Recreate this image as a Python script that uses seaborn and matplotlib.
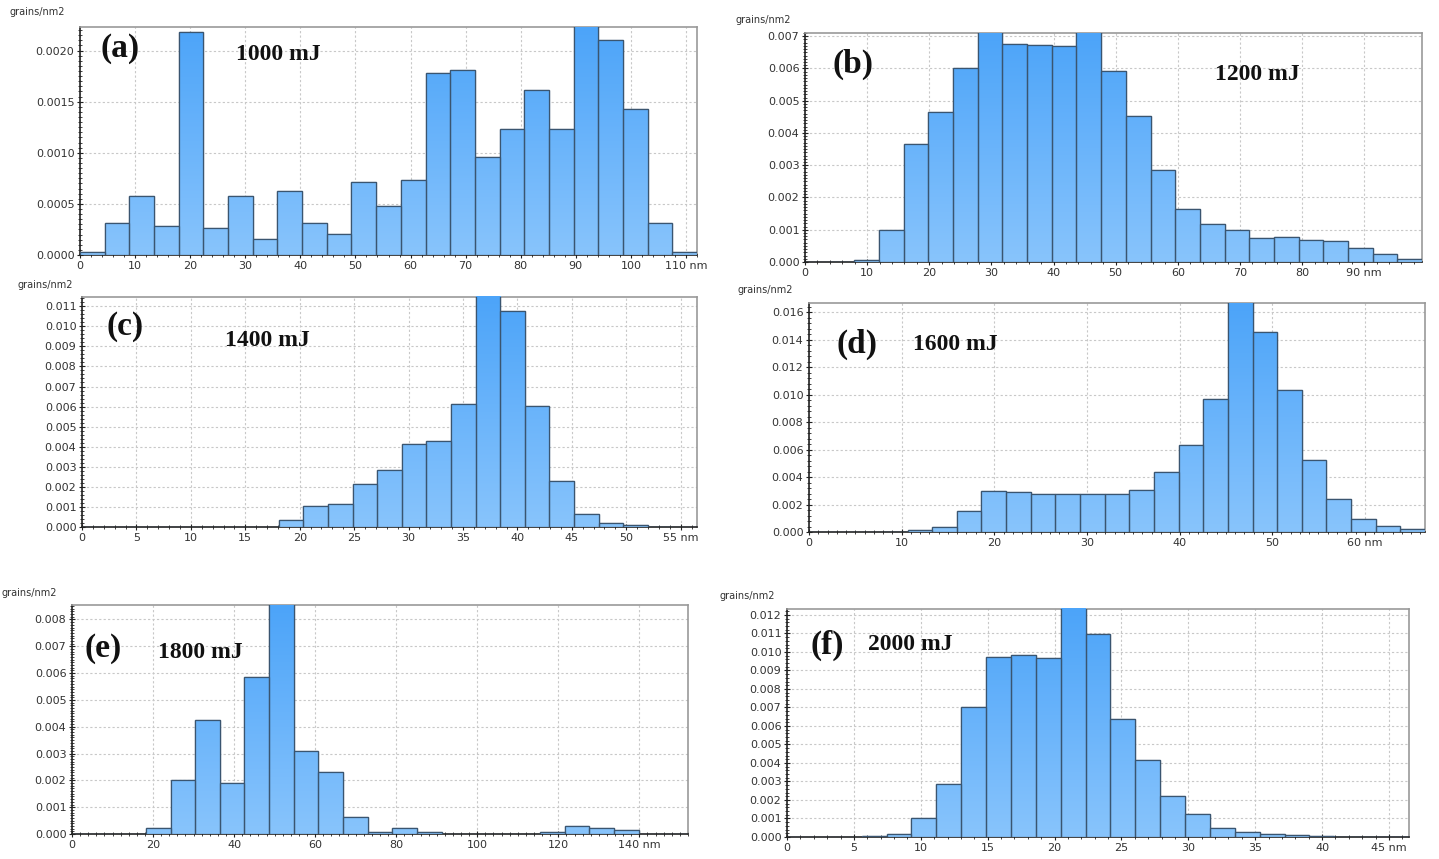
import numpy as np
import pandas as pd
import matplotlib
matplotlib.use("Agg")
import matplotlib.pyplot as plt
import seaborn as sns
from matplotlib.ticker import MultipleLocator, FuncFormatter
from matplotlib.colors import LinearSegmentedColormap

# ---- данные: высоты столбцов (grains/nm2), 25 бинов на панель ----
a_xmax = 112.0
a_vals = [0.00003, 0.00031, 0.00058, 0.00028, 0.00218, 0.00026, 0.00058, 0.00016,
          0.00063, 0.00031, 0.00021, 0.00071, 0.00048, 0.00073, 0.00178, 0.00181,
          0.00096, 0.00123, 0.00161, 0.00123, 0.00240, 0.00210, 0.00143, 0.00031, 0.00003]

b_xmax = 99.3
b_vals = [0.0, 0.00001, 0.00005, 0.00098, 0.00367, 0.00464, 0.00603, 0.00740,
          0.00677, 0.00673, 0.00669, 0.00740, 0.00592, 0.00452, 0.00284, 0.00164,
          0.00119, 0.00100, 0.00073, 0.00077, 0.00069, 0.00065, 0.00042, 0.00026, 0.00010]

c_xmax = 56.5
c_vals = [0.0, 0.0, 0.0, 0.0, 0.0, 0.0, 0.0, 0.0,
          0.00033, 0.00103, 0.00113, 0.00213, 0.00286, 0.00415, 0.00429, 0.00611,
          0.01190, 0.01076, 0.00605, 0.00229, 0.00063, 0.00022, 0.00008, 0.00002, 0.0]

d_xmax = 66.5
d_vals = [0.0, 0.0, 0.0, 0.00003, 0.00017, 0.00036, 0.00153, 0.00299,
          0.00289, 0.00279, 0.00274, 0.00274, 0.00274, 0.00308, 0.00434, 0.00636,
          0.00971, 0.01720, 0.01456, 0.01032, 0.00527, 0.00238, 0.00095, 0.00046, 0.00024]

e_xmax = 152.0
e_vals = [0.0, 0.0, 0.0, 0.00021, 0.00200, 0.00426, 0.00192, 0.00584,
          0.00900, 0.00311, 0.00233, 0.00062, 0.00007, 0.00021, 0.00007, 0.0,
          0.0, 0.0, 0.0, 0.00007, 0.00029, 0.00021, 0.00014, 0.0, 0.0]

f_xmax = 46.5
f_vals = [0.0, 0.0, 0.0, 0.00007, 0.00014, 0.00100, 0.00284, 0.00702,
          0.00975, 0.00986, 0.00969, 0.01260, 0.01099, 0.00636, 0.00415, 0.00223,
          0.00124, 0.00047, 0.00027, 0.00016, 0.00009, 0.00004, 0.00002, 0.00002, 0.00002]

panel_tags = ["(a)", "(b)", "(c)", "(d)", "(e)", "(f)"]
energies = ["1000 mJ", "1200 mJ", "1400 mJ", "1600 mJ", "1800 mJ", "2000 mJ"]

# ---- оформление панелей (пиксели исходной картинки 1439x859) ----
W, H = 1439, 859
panels = [
    dict(vals=a_vals, xmax=a_xmax, box=(80, 697, 27, 255), ytop=0.00223, ystep=0.0005,
         xstep=10, dec=4, xminor=2, yminor=0.00005, tag=(120, 48), en=(278, 55), lab=(10, 12)),
    dict(vals=b_vals, xmax=b_xmax, box=(805, 1422, 33, 262), ytop=0.0071, ystep=0.001,
         xstep=10, dec=3, xminor=2, yminor=0.0001, tag=(853, 64), en=(1257, 74), lab=(735, 20)),
    dict(vals=c_vals, xmax=c_xmax, box=(82, 697, 297, 527), ytop=0.01146, ystep=0.001,
         xstep=5, dec=3, xminor=1, yminor=0.0002, tag=(125, 327), en=(267, 340), lab=(17, 285)),
    dict(vals=d_vals, xmax=d_xmax, box=(809, 1425, 303, 532), ytop=0.01668, ystep=0.002,
         xstep=10, dec=3, xminor=1, yminor=0.0004, tag=(857, 344), en=(955, 344), lab=(738, 290)),
    dict(vals=e_vals, xmax=e_xmax, box=(72, 688, 605, 834), ytop=0.00854, ystep=0.001,
         xstep=20, dec=3, xminor=2, yminor=0.0001, tag=(103, 648), en=(200, 653), lab=(2, 593)),
    dict(vals=f_vals, xmax=f_xmax, box=(787, 1409, 609, 837), ytop=0.01232, ystep=0.001,
         xstep=5, dec=3, xminor=1, yminor=0.0002, tag=(827, 645), en=(910, 645), lab=(720, 596)),
]

sns.set_style("white")
plt.rcParams["font.family"] = ["DejaVu Sans"]

fig = plt.figure(figsize=(W / 100, H / 100), dpi=100)
fig.patch.set_facecolor("white")

cmap = LinearSegmentedColormap.from_list("bar", ["#88C4FC", "#4CA4F9"])
grad = np.linspace(0, 1, 256).reshape(-1, 1)
serif = ["Liberation Serif", "DejaVu Serif"]

for i, p in enumerate(panels):
    l, r, t, b = p["box"]
    ax = fig.add_axes([l / W, 1 - b / H, (r - l) / W, (b - t) / H])

    n = len(p["vals"])
    width = p["xmax"] / n
    centers = width * (np.arange(n) + 0.5)
    df = pd.DataFrame({"size": centers, "density": p["vals"]})

    sns.histplot(data=df, x="size", weights="density", bins=n, binrange=(0, p["xmax"]),
                 ax=ax, color="#5AAAF8", alpha=1.0, edgecolor="#3A5570", linewidth=0.9,
                 zorder=3)

    # градиентная заливка столбцов
    for patch in list(ax.patches):
        h = patch.get_height()
        if h <= 0:
            continue
        x0 = patch.get_x()
        w = patch.get_width()
        im = ax.imshow(grad, extent=[x0, x0 + w, 0, p["ytop"]], origin="lower",
                       aspect="auto", cmap=cmap, zorder=3.5)
        im.set_clip_path(patch)
        ax.add_patch(plt.Rectangle((x0, 0), w, h, fill=False, edgecolor="#3A5570",
                                   linewidth=0.9, zorder=4))
    ax.set_xlim(0, p["xmax"])
    ax.set_ylim(0, p["ytop"])

    ax.set_xlabel("")
    ax.set_ylabel("")

    last_tick = int(p["xmax"] // p["xstep"]) * p["xstep"]
    ax.xaxis.set_major_locator(MultipleLocator(p["xstep"]))
    ax.xaxis.set_minor_locator(MultipleLocator(p["xminor"]))
    ax.xaxis.set_major_formatter(FuncFormatter(
        lambda v, pos, lt=last_tick: f"{v:.0f} nm" if abs(v - lt) < 1e-6 else f"{v:.0f}"))
    ax.yaxis.set_major_locator(MultipleLocator(p["ystep"]))
    ax.yaxis.set_minor_locator(MultipleLocator(p["yminor"]))
    ax.yaxis.set_major_formatter(FuncFormatter(lambda v, pos, d=p["dec"]: f"{v:.{d}f}"))

    ax.tick_params(axis="both", which="major", labelsize=8, labelcolor="#333333",
                   color="#222222", length=4, width=0.8, direction="inout", pad=2)
    ax.tick_params(axis="both", which="minor", color="#222222", length=3, width=0.6,
                   direction="inout")
    ax.tick_params(axis="both", which="both", bottom=True, left=True)

    ax.grid(True, which="major", linestyle=(0, (2, 2)), color="#C8C8C8", linewidth=0.8)
    ax.set_axisbelow(True)

    for side in ["top", "right"]:
        ax.spines[side].set_color("#999999")
        ax.spines[side].set_linewidth(1.2)
    for side in ["left", "bottom"]:
        ax.spines[side].set_color("#222222")
        ax.spines[side].set_linewidth(1.2)

    fig.text(p["lab"][0] / W, 1 - p["lab"][1] / H, "grains/nm2", fontsize=7,
             color="#333333", va="center", ha="left")
    fig.text(p["tag"][0] / W, 1 - p["tag"][1] / H, panel_tags[i], fontsize=24,
             fontweight="bold", family=serif, ha="center", va="center", color="#111111")
    fig.text(p["en"][0] / W, 1 - p["en"][1] / H, energies[i], fontsize=17,
             fontweight="bold", family=serif, ha="center", va="center", color="#111111")

fig.savefig("out.png", dpi=100, facecolor="white")
